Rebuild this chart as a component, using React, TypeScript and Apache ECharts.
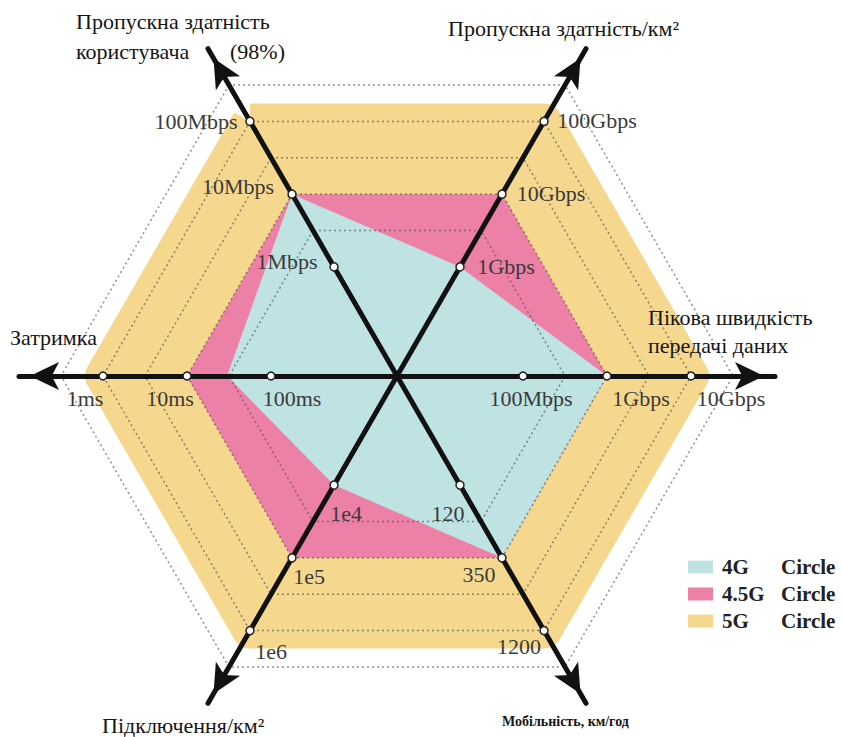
import React, { useEffect, useRef } from "react";
import * as echarts from "echarts";

// ---------- data ----------
// indicator order (counter-clockwise from upper-left)
const axisNames = [
  "Пропускна здатність користувача (98%)",
  "Затримка",
  "Підключення/км²",
  "Мобільність, км/год",
  "Пікова швидкість передачі даних",
  "Пропускна здатність/км²",
];
const axisTickValues = [
  [1, 10, 100], // Mbps
  [100, 10, 1], // ms
  [1e4, 1e5, 1e6], // connections / km2
  [120, 350, 1200], // km/h
  [0.1, 1, 10], // Gbps
  [1, 10, 100], // Gbps / km2
];
const axisTickLabels = [
  ["1Mbps", "10Mbps", "100Mbps"],
  ["100ms", "10ms", "1ms"],
  ["1e4", "1e5", "1e6"],
  ["120", "350", "1200"],
  ["100Mbps", "1Gbps", "10Gbps"],
  ["1Gbps", "10Gbps", "100Gbps"],
];
const seriesNames = ["4G", "4.5G", "5G"];
const values4G = [10, 30, 1e4, 350, 1, 1];
const values45G = [10, 10, 1e5, 350, 1, 10];
const values5G = [100, 1, 1e6, 1200, 10, 100];
const legendSuffix = "Circle";

const titleLines = [
  "Пропускна здатність",
  "користувача",
  "(98%)",
  "Пропускна здатність/км²",
  "Пікова швидкість",
  "передачі даних",
  "Затримка",
  "Підключення/км²",
  "Мобільність, км/год",
];

// ---------- layout / style ----------
const titlePositions = [
  [76, 10], [76, 40], [230, 40], [448, 17], [648, 306], [648, 334], [10, 326], [102, 714], [502, 714],
];
const tickLabelOffsets = [
  [[-47, -5], [-54, -8], [-54, 0]],
  [[21, 22], [-17, 22], [-18, 22]],
  [[12, 28], [17, 19], [21, 21]],
  [[-12, 28], [-23, 17], [-25, 16]],
  [[8, 22], [34, 22], [40, 22]],
  [[46, 0], [49, -1], [53, -1]],
];
const COLORS = { "4G": "#BFE2E3", "4.5G": "#EC80A6", "5G": "#F6D78E" };
const SERIF = "serif";

// piecewise-logarithmic scale: position in "tick steps" from the first tick
function toPos(v: number, ticks: number[]): number {
  const seg = (i: number) => i + Math.log(v / ticks[i]) / Math.log(ticks[i + 1] / ticks[i]);
  const p0 = seg(0);
  return p0 <= 1 ? p0 : seg(1);
}
const posOf = (vals: number[]) => vals.map((v, i) => toPos(v, axisTickValues[i]));

export default function App() {
  const ref = useRef<HTMLDivElement>(null);
  useEffect(() => {
    if (!ref.current) return;
    const chart = echarts.init(ref.current, undefined, { renderer: "svg" });

    const areaDefs = [
      { name: "5G", vals: values5G, lw: 36 },
      { name: "4.5G", vals: values45G, lw: 0 },
      { name: "4G", vals: values4G, lw: 0 },
    ];
    const areaSeries = areaDefs.map((d) => ({
      type: "radar",
      name: d.name,
      z: 2,
      silent: true,
      symbol: "none",
      itemStyle: { color: COLORS[d.name] },
      lineStyle: d.lw
        ? { color: COLORS[d.name], width: d.lw, join: "round", opacity: 1 }
        : { width: 0, opacity: 0 },
      areaStyle: { color: COLORS[d.name], opacity: 1 },
      data: [{ name: d.name, value: posOf(d.vals) }],
    }));

    const tickSeries = {
      type: "radar",
      name: "ticks",
      z: 4,
      silent: true,
      symbol: "circle",
      symbolSize: 8,
      itemStyle: { color: "#ffffff", borderColor: "#222", borderWidth: 1.5 },
      lineStyle: { width: 0, opacity: 0 },
      data: [0, 1, 2].map((k) => ({
        name: "level" + k,
        value: axisTickValues.map((t) => toPos(t[k], t)),
      })),
    };

    const labelItems: any[] = [];
    axisTickLabels.forEach((labels, a) =>
      labels.forEach((txt, k) => {
        labelItems.push({
          name: txt,
          value: axisTickValues.map((t) => toPos(t[k], t)),
          label: {
            show: true,
            position: "inside",
            offset: tickLabelOffsets[a][k],
            color: "#3a3a3a",
            fontFamily: SERIF,
            fontSize: 22,
            formatter: (p: any) => (p.dimensionIndex === a ? txt : ""),
          },
        });
      })
    );
    const labelSeries = {
      type: "radar",
      name: "tickLabels",
      z: 5,
      silent: true,
      symbol: "circle",
      symbolSize: 1,
      itemStyle: { color: "rgba(0,0,0,0)" },
      lineStyle: { width: 0, opacity: 0 },
      data: labelItems,
    };

    const gridColor = "rgba(70,70,70,0.6)";
    const clear = "rgba(0,0,0,0)";

    chart.setOption({
      animation: false,
      backgroundColor: "#ffffff",
      textStyle: { fontFamily: SERIF },
      radar: {
        center: [397, 376],
        radius: 378,
        startAngle: 120,
        splitNumber: 9,
        shape: "polygon",
        z: 3,
        indicator: axisNames.map((n) => ({ name: n, min: -1.5, max: 3 })),
        axisName: { show: false },
        axisLine: {
          show: true,
          symbol: ["none", "arrow"],
          symbolSize: [21, 29],
          symbolOffset: [0, -11],
          lineStyle: { color: "#111", width: 5 },
        },
        axisTick: { show: false },
        axisLabel: { show: false },
        splitArea: { show: false },
        splitLine: {
          show: true,
          lineStyle: {
            color: [clear, clear, clear, clear, gridColor, gridColor, gridColor, gridColor, gridColor, clear],
            width: 1.5,
            type: [2, 3],
          },
        },
      },
      legend: {
        data: seriesNames,
        orient: "vertical",
        left: 683,
        top: 551,
        itemWidth: 25,
        itemHeight: 13,
        itemGap: 5,
        icon: "rect",
        selectedMode: false,
        itemStyle: { borderWidth: 0 },
        textStyle: {
          fontFamily: SERIF,
          fontWeight: "bold",
          fontSize: 21,
          color: "#222",
          lineHeight: 22,
          rich: {
            n: { fontFamily: SERIF, fontWeight: "bold", fontSize: 21, color: "#222", width: 59, padding: [0, 0, 0, 4] },
            c: { fontFamily: SERIF, fontWeight: "bold", fontSize: 21, color: "#222" },
          },
        },
        formatter: (name: string) => `{n|${name}}{c|${legendSuffix}}`,
      },
      graphic: titleLines.map((t, i) => ({
        type: "text",
        x: titlePositions[i][0],
        y: titlePositions[i][1],
        z: 20,
        style: i === 8
          ? { text: t, fontFamily: SERIF, fontSize: 14, fontWeight: "bold", fill: "#151515" }
          : { text: t, fontFamily: SERIF, fontSize: 22, fill: "#151515" },
      })),
      series: [...areaSeries, tickSeries, labelSeries],
    });
    return () => chart.dispose();
  }, []);
  return (
    <div
      ref={ref}
      style={{ position: "fixed", left: 0, top: 0, width: 842, height: 737, background: "#fff" }}
    />
  );
}
